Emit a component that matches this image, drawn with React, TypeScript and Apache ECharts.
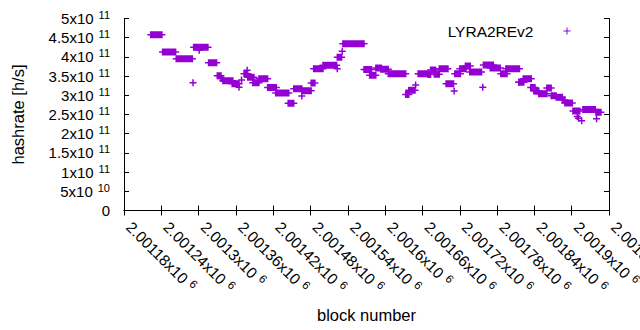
import React, { useEffect, useRef } from 'react';
import * as echarts from 'echarts';

const seriesName = 'LYRA2REv2';

// Runs of blocks sharing the same hashrate (first block, last block, hashrate in h/s)
const segStart = [
  2001223, 2001242, 2001264, 2001291, 2001292, 2001301, 2001302, 2001316, 2001330, 2001336,
  2001339, 2001354, 2001365, 2001369, 2001373, 2001378, 2001379, 2001387, 2001397, 2001411,
  2001424, 2001444, 2001453, 2001466, 2001466, 2001481, 2001485, 2001500, 2001523, 2001523,
  2001531, 2001532, 2001566, 2001575, 2001585, 2001593, 2001605, 2001633, 2001638, 2001649,
  2001653, 2001669, 2001673, 2001679, 2001687, 2001698, 2001711, 2001712, 2001720, 2001729,
  2001736, 2001757, 2001758, 2001769, 2001786, 2001794, 2001815, 2001815, 2001822, 2001834,
  2001839, 2001847, 2001860, 2001867, 2001875, 2001885, 2001889, 2001902, 2001909, 2001911,
  2001916, 2001918, 2001939, 2001940,
];
const segEnd = [
  2001241, 2001263, 2001290, 2001291, 2001300, 2001301, 2001315, 2001329, 2001336, 2001339,
  2001355, 2001365, 2001365, 2001369, 2001379, 2001378, 2001389, 2001397, 2001411, 2001425,
  2001445, 2001453, 2001466, 2001466, 2001481, 2001487, 2001500, 2001522, 2001523, 2001530,
  2001531, 2001566, 2001578, 2001585, 2001594, 2001605, 2001633, 2001638, 2001648, 2001649,
  2001669, 2001673, 2001681, 2001687, 2001701, 2001710, 2001711, 2001721, 2001730, 2001737,
  2001755, 2001757, 2001774, 2001785, 2001796, 2001816, 2001815, 2001823, 2001835, 2001841,
  2001847, 2001860, 2001867, 2001875, 2001885, 2001889, 2001901, 2001913, 2001909, 2001911,
  2001916, 2001938, 2001947, 2001940,
];
const segHashrate = [
  457.5e9, 413e9, 395e9, 333e9, 425e9, 417e9, 425e9, 385e9, 351e9, 344e9,
  338e9, 330e9, 321e9, 340e9, 356e9, 365e9, 347e9, 333e9, 343e9, 320e9,
  306e9, 279e9, 317e9, 298e9, 312e9, 332e9, 369e9, 378e9, 369e9, 399e9,
  415e9, 434e9, 367e9, 352e9, 371e9, 368e9, 356e9, 302e9, 313e9, 327e9,
  356e9, 354e9, 366e9, 355e9, 369e9, 330e9, 311e9, 356e9, 369e9, 376e9,
  361e9, 321e9, 379e9, 371e9, 356e9, 369e9, 334e9, 334e9, 343e9, 320e9,
  311e9, 304e9, 319e9, 299e9, 295e9, 288e9, 280e9, 259e9, 245e9, 240e9,
  234e9, 263e9, 256e9, 239e9,
];

const xTickMantissa = [
  '2.00118', '2.00124', '2.0013', '2.00136', '2.00142', '2.00148', '2.00154',
  '2.0016', '2.00166', '2.00172', '2.00178', '2.00184', '2.0019', '2.00196',
];
const xTickExponent = '6';
const yTickMantissa = ['0', '5', '1', '1.5', '2', '2.5', '3', '3.5', '4', '4.5', '5'];
const yTickExponent = ['', '10', '11', '11', '11', '11', '11', '11', '11', '11', '11'];

const X_MIN = 2001180;
const X_MAX = 2001960;
const X_STEP = 60;
const Y_MIN = 0;
const Y_MAX = 5e11;
const Y_STEP = 5e10;

const COLOR = '#9400d3';
const FONT = 'Liberation Sans, Arial, sans-serif';
const PLUS_ICON = 'path://M3,0H4V3H7V4H4V7H3V4H0V3H3Z';

const richY = {
  m: { fontSize: 15, lineHeight: 18, color: '#000', fontFamily: FONT },
  s: { fontSize: 11, lineHeight: 11, color: '#000', fontFamily: FONT, padding: [0, 0, 7, 5] },
};
const richX = {
  m: { fontSize: 15.5, lineHeight: 18, color: '#000', fontFamily: FONT, padding: [0, 0, 0, 7] },
  s: { fontSize: 11.5, lineHeight: 11, color: '#000', fontFamily: FONT, padding: [0, 0, 7, 5] },
};

export default function App() {
  const ref = useRef<HTMLDivElement>(null);
  useEffect(() => {
    if (!ref.current) return;
    const chart = echarts.init(ref.current, undefined, { renderer: 'svg' });
    const data = segStart.map((s, i) => [s, segEnd[i], segHashrate[i]]);
    const axisLine = { show: true, lineStyle: { color: '#000', width: 1 } };
    const axisTick = { show: true, inside: true, length: 5, lineStyle: { color: '#000', width: 1 } };
    const option: any = {
      animation: false,
      backgroundColor: '#fff',
      textStyle: { fontFamily: FONT },
      grid: {
        left: 124,
        top: 18.5,
        width: 485,
        height: 192,
        containLabel: false,
        outerBoundsMode: 'none',
      },
      legend: {
        data: [{ name: seriesName, icon: PLUS_ICON }],
        right: 69.5,
        top: 23,
        padding: 0,
        align: 'right',
        itemWidth: 7,
        itemHeight: 7,
        selectedMode: false,
        textStyle: { fontSize: 15.5, color: '#000', fontFamily: FONT, padding: [0, 25, 0, 0] },
      },
      xAxis: [
        {
          type: 'value',
          min: X_MIN,
          max: X_MAX,
          interval: X_STEP,
          position: 'bottom',
          axisLine,
          axisTick,
          splitLine: { show: false },
          name: 'block number',
          nameLocation: 'middle',
          nameGap: 96,
          nameTextStyle: { fontSize: 16.5, color: '#000', fontFamily: FONT },
          axisLabel: {
            rotate: -45,
            margin: 9,
            hideOverlap: false,
            formatter: (v: number) => {
              const idx = Math.round((v - X_MIN) / X_STEP);
              return `{m|${xTickMantissa[idx]}x10}{s|${xTickExponent}}`;
            },
            rich: richX,
          },
        },
        {
          type: 'value',
          min: X_MIN,
          max: X_MAX,
          interval: X_STEP,
          position: 'top',
          axisLine,
          axisTick,
          axisLabel: { show: false },
          splitLine: { show: false },
        },
      ],
      yAxis: [
        {
          type: 'value',
          min: Y_MIN,
          max: Y_MAX,
          interval: Y_STEP,
          position: 'left',
          axisLine,
          axisTick,
          splitLine: { show: false },
          name: 'hashrate [h/s]',
          nameLocation: 'middle',
          nameGap: 98,
          nameTextStyle: { fontSize: 16.5, color: '#000', fontFamily: FONT },
          axisLabel: {
            margin: 14,
            formatter: (v: number) => {
              const idx = Math.round(v / Y_STEP);
              if (!yTickExponent[idx]) return `{m|${yTickMantissa[idx]}}`;
              return `{m|${yTickMantissa[idx]}x10}{s|${yTickExponent[idx]}}`;
            },
            rich: richY,
          },
        },
        {
          type: 'value',
          min: Y_MIN,
          max: Y_MAX,
          interval: Y_STEP,
          position: 'right',
          axisLine,
          axisTick,
          axisLabel: { show: false },
          splitLine: { show: false },
        },
      ],
      series: [
        {
          name: seriesName,
          type: 'custom',
          xAxisIndex: 0,
          yAxisIndex: 0,
          itemStyle: { color: COLOR },
          encode: { x: [0, 1], y: 2 },
          data,
          clip: true,
          renderItem: (params: any, api: any) => {
            const s = api.coord([api.value(0), api.value(2)]);
            const e = api.coord([api.value(1), api.value(2)]);
            const h = 7;
            return {
              type: 'group',
              children: [
                {
                  type: 'rect',
                  shape: { x: s[0] - 0.75, y: s[1] - h / 2, width: e[0] - s[0] + 1.5, height: h },
                  style: { fill: COLOR },
                },
                {
                  type: 'line',
                  shape: { x1: s[0] - 3.5, y1: s[1], x2: e[0] + 3.5, y2: s[1] },
                  style: { stroke: COLOR, lineWidth: 1.5 },
                },
              ],
            };
          },
        },
      ],
    };
    chart.setOption(option);
    return () => chart.dispose();
  }, []);
  return (
    <div
      ref={ref}
      style={{ position: 'fixed', left: 0, top: 0, width: 640, height: 330, background: '#fff' }}
    />
  );
}
